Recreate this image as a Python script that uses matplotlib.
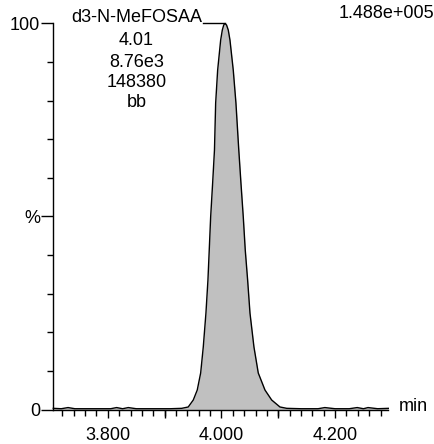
import matplotlib
matplotlib.use("Agg")
import matplotlib.pyplot as plt
from matplotlib.ticker import MultipleLocator, FixedLocator, FixedFormatter

plt.rcParams['font.family'] = ['Liberation Sans', 'DejaVu Sans']

# ---- data ----
compound = "d3-N-MeFOSAA"
peak_rt_label = "4.01"
peak_height_label = "8.76e3"
peak_area_label = "148380"
peak_flag = "bb"
max_intensity_label = "1.488e+005"

rt = [3.704, 3.718, 3.730, 3.742, 3.760, 3.790, 3.805, 3.8155, 3.826, 3.836,
      3.850, 3.880, 3.910, 3.930,
      3.9415, 3.9504, 3.9574, 3.9634, 3.9680, 3.9727, 3.9762, 3.9785, 3.9810,
      3.9845, 3.9877, 3.9898, 3.9933, 3.9986, 4.0015, 4.0040, 4.0062,
      4.0090, 4.0120, 4.0150, 4.0208, 4.0255, 4.0303, 4.0343, 4.0384, 4.0419,
      4.0461, 4.0502, 4.0572, 4.0648, 4.0766, 4.0884, 4.1030, 4.1150,
      4.140, 4.170, 4.182, 4.200, 4.225, 4.239, 4.250, 4.258, 4.275, 4.2937]
intensity = [0.3, 0.2, 0.5, 0.2, 0.2, 0.2, 0.2, 0.5, 0.2, 0.5,
             0.2, 0.2, 0.2, 0.3,
             0.65, 2.46, 5.05, 9.46, 16.2, 25.0, 33.5, 41.3, 49.9,
             58.7, 67.2, 79.4, 87.9, 95.7, 98.3, 99.6, 100.0,
             99.6, 98.3, 95.7, 87.9, 79.4, 67.7, 58.7, 49.9, 41.3,
             33.5, 25.0, 16.2, 9.46, 5.05, 2.46, 0.65, 0.3,
             0.2, 0.2, 0.5, 0.2, 0.2, 0.5, 0.2, 0.5, 0.2, 0.3]

x_range = (3.704, 4.2937)
x_label_ticks = [3.8, 4.0, 4.2]
x_tick_labels = ["3.800", "4.000", "4.200"]
x_mid_ticks = [3.9, 4.1]
y_label_ticks = [0, 50, 100]
y_tick_labels = ["0", "%", "100"]

# ---- figure ----
W, H = 435, 444
fig = plt.figure(figsize=(W / 100, H / 100), dpi=100)
ax_l, ax_r, ax_b, ax_t = 53.3, 388.3, 409.5, 23.5
ax = fig.add_axes([ax_l / W, 1 - ax_b / H, (ax_r - ax_l) / W, (ax_b - ax_t) / H])

ax.fill_between(rt, intensity, 0, color="#c0c0c0", linewidth=0, clip_on=False)
ax.plot(rt, intensity, color="black", linewidth=1.0, clip_on=False)

ax.set_xlim(*x_range)
ax.set_ylim(0, 100)

for s in ("top", "right"):
    ax.spines[s].set_visible(False)
for s in ("left", "bottom"):
    ax.spines[s].set_linewidth(1.0)
    ax.spines[s].set_color("black")

fs = 13
ax.xaxis.set_major_locator(FixedLocator(x_label_ticks))
ax.xaxis.set_major_formatter(FixedFormatter(x_tick_labels))
ax.xaxis.set_minor_locator(MultipleLocator(0.02))
ax.tick_params(axis="x", which="major", direction="out", length=6, width=1.0,
               pad=6.5, labelsize=fs)
ax.tick_params(axis="x", which="minor", direction="out", length=4, width=1.0)

# medium ticks every 0.1 (unlabelled)
for t in x_mid_ticks:
    ax.plot([t], [0], marker=3, markersize=6, color="black",
            markeredgewidth=1.0, clip_on=False)

ax.yaxis.set_major_locator(FixedLocator(y_label_ticks))
ax.yaxis.set_major_formatter(FixedFormatter(y_tick_labels))
ax.yaxis.set_minor_locator(MultipleLocator(10))
ax.tick_params(axis="y", which="major", direction="out", length=9, width=1.0,
               pad=0.5, labelsize=fs)
ax.tick_params(axis="y", which="minor", direction="out", length=4, width=1.0)

# "min" axis unit
fig.text(399 / W, 1 - 411 / H, "min", fontsize=fs, ha="left", va="baseline")

# top-right max intensity
fig.text(434.5 / W, 1 - 18.5 / H, max_intensity_label, fontsize=fs,
         ha="right", va="baseline")

# peak annotation
cx = 136.5 / W
lines = [compound, peak_rt_label, peak_height_label, peak_area_label, peak_flag]
baselines = [21.5, 45.0, 66.7, 87.3, 107.3]
txt_objs = []
for s, b in zip(lines, baselines):
    txt_objs.append(fig.text(cx, 1 - b / H, s, fontsize=fs, ha="center",
                             va="baseline"))

fig.canvas.draw()
ext = txt_objs[0].get_window_extent()
inv = ax.transData.inverted()
x_end = inv.transform((ext.x1 + 1, 0))[0]
peak_i = intensity.index(max(intensity))
ax.plot([x_end, rt[peak_i]], [intensity[peak_i], intensity[peak_i]],
        color="black", linewidth=1.0, clip_on=False)

fig.savefig("out.png", dpi=100)
